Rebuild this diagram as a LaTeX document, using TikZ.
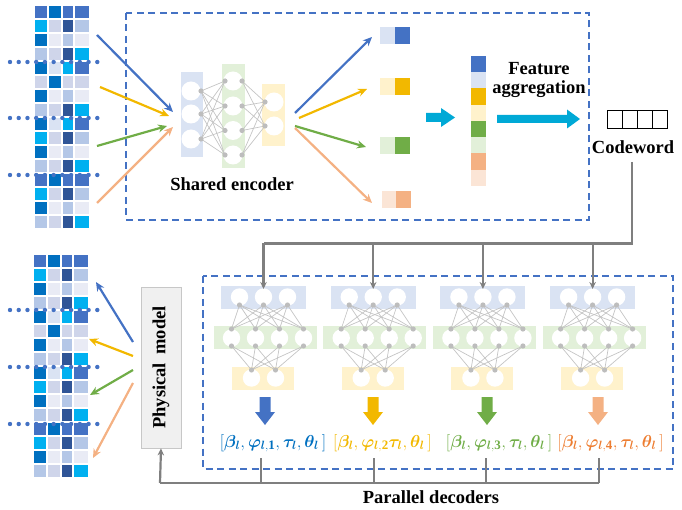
\documentclass[tikz,border=0pt]{standalone}
\usepackage{fontspec}
\setmainfont{Liberation Serif}
\usepackage{amsmath,bm}
\usetikzlibrary{arrows.meta}
\definecolor{cA}{HTML}{4472C4}
\definecolor{cB}{HTML}{0070C0}
\definecolor{cC}{HTML}{00B0F0}
\definecolor{cD}{HTML}{2F5597}
\definecolor{cE}{HTML}{B4C7E7}
\definecolor{cF}{HTML}{CFD5EA}
\definecolor{cG}{HTML}{E9EBF5}
\definecolor{cH}{HTML}{DAE3F3}
\definecolor{lblue}{HTML}{DAE3F3}
\definecolor{lgreen}{HTML}{E2F0D9}
\definecolor{lyellow}{HTML}{FFF2CC}
\definecolor{lorange}{HTML}{FBE5D6}
\definecolor{myellow}{HTML}{F2B800}
\definecolor{mgreen}{HTML}{70AD47}
\definecolor{morange}{HTML}{F4B183}
\definecolor{torange}{HTML}{ED7D31}
\definecolor{mcyan}{HTML}{00A9D6}
\definecolor{edgegray}{HTML}{C4C4C4}
\definecolor{dotgray}{HTML}{BDBDBD}
\definecolor{feedgray}{HTML}{7F7F7F}
\def\matrows{cA/cB/cA/cA, cC/cF/cD/cE, cB/cG/cE/cG, cE/cF/cD/cC,
 cB/cH/cC/cA, cF/cB/cF/cF, cB/cG/cE/cG, cE/cF/cD/cC,
 cB/cH/cC/cA, cC/cF/cD/cE, cB/cG/cE/cG, cE/cF/cD/cC,
 cA/cB/cA/cA, cC/cF/cD/cE, cB/cG/cE/cG, cE/cF/cD/cC}
\tikzset{
  dashbox/.style={draw=cA, line width=1.6pt, dash pattern=on 7pt off 4.5pt},
  dotline/.style={draw=cA, line width=4.4pt, line cap=round, dash pattern=on 0pt off 8.73pt},
  carrow/.style={line width=2.2pt, -{Stealth[length=9pt,width=8pt]}},
  feed/.style={draw=feedgray, line width=2.2pt},
  feedarrow/.style={feed, -{Stealth[length=7pt,width=6.5pt]}},
  nnedge/.style={draw=edgegray, line width=0.7pt},
  ndot/.style={fill=dotgray},
  bold18/.style={font=\fontsize{18.5}{19}\selectfont\bfseries, inner sep=0pt},
  lab/.style={font=\fontsize{18.5}{20}\selectfont, inner sep=0pt, anchor=base},
  pmbox/.style={draw=black!22, fill=black!6, line width=0.8pt, rotate=90, minimum width=161pt, minimum height=40pt, inner sep=0pt, font=\fontsize{18.5}{19}\selectfont\bfseries},
}
\begin{document}
\begin{tikzpicture}[x=1pt,y=-1pt]
\useasboundingbox (0,0) rectangle (682,510);
% ---------- matrices ----------
\foreach \xo/\yo in {35/6, 34/255} {
  \begin{scope}[shift={(\xo,\yo)}]
  \foreach \a/\b/\cc/\d [count=\r from 0] in \matrows {
    \pgfmathsetmacro\yt{14*\r}
    \fill[\a] (0,\yt) rectangle (12,\yt+12);
    \fill[\b] (14,\yt) rectangle (26,\yt+12);
    \fill[\cc] (28,\yt) rectangle (38,\yt+12);
    \fill[\d] (40,\yt) rectangle (54,\yt+12);
  }
  \end{scope}
}
\foreach \y in {62,118,175,310,367,424} \draw[dotline] (10,\y) -- (106,\y);
% ---------- dashed boxes ----------
\draw[dashbox] (126,13) rectangle (589,220);
\draw[dashbox] (203,276) rectangle (673,469);
% ---------- shared encoder ----------
\fill[lblue] (181,72) rectangle (203,157);
\fill[lgreen] (222,64) rectangle (245,168);
\fill[lyellow] (262,84) rectangle (285,146);
\foreach \y in {91,114,139} \fill[white] (191,\y) circle (9.5);
\foreach \y in {81,106,130.5,155} \fill[white] (233,\y) circle (9.5);
\foreach \y in {102,126} \fill[white] (274,\y) circle (9.5);
\foreach \ya in {91,114,139} \foreach \yb in {81,106,130.5,155} \draw[nnedge] (201,\ya) -- (225,\yb);
\foreach \ya in {81,106,130.5,155} \foreach \yb in {102,126} \draw[nnedge] (242,\ya) -- (265,\yb);
\foreach \y in {91,114,139} \fill[ndot] (201,\y) circle (2.6);
\foreach \y in {81,106,130.5,155} {\fill[ndot] (225,\y) circle (2.6); \fill[ndot] (242,\y) circle (2.6);}
\foreach \y in {102,126} \fill[ndot] (265,\y) circle (2.6);
\node[bold18] (enc) at (232,184) {Shared encoder};
% input arrows
\coordinate (ib0) at (97,35);  \coordinate (ib1) at (173,112);
\coordinate (iy0) at (100,87); \coordinate (iy1) at (169,116);
\coordinate (ig0) at (97,146); \coordinate (ig1) at (167,126);
\coordinate (io0) at (97,203); \coordinate (io1) at (173,127);
\draw[carrow, cA] (ib0) -- (ib1);
\draw[carrow, myellow] (iy0) -- (iy1);
\draw[carrow, mgreen] (ig0) -- (ig1);
\draw[carrow, morange] (io0) -- (io1);
% output arrows
\coordinate (ob0) at (295,113); \coordinate (ob1) at (372,37);
\coordinate (oy0) at (299,118); \coordinate (oy1) at (367,89);
\coordinate (og0) at (295,126); \coordinate (og1) at (366,147);
\coordinate (oo0) at (295,128); \coordinate (oo1) at (372,203);
\draw[carrow, cA] (ob0) -- (ob1);
\draw[carrow, myellow] (oy0) -- (oy1);
\draw[carrow, mgreen] (og0) -- (og1);
\draw[carrow, morange] (oo0) -- (oo1);
% feature pairs
\fill[lblue] (380,27) rectangle (395,44);   \fill[cA] (395,27) rectangle (410,44);
\fill[lyellow] (380,78) rectangle (395,95); \fill[myellow] (395,78) rectangle (410,95);
\fill[lgreen] (380,137) rectangle (395,154); \fill[mgreen] (395,137) rectangle (410,154);
\fill[lorange] (382,191) rectangle (396,208); \fill[morange] (396,191) rectangle (411,208);
% cyan block arrow
\fill[mcyan] (426,113) -- (441,113) -- (441,108) -- (455,117.5) -- (441,127) -- (441,122) -- (426,122) -- cycle;
% stacked feature
\foreach \c [count=\i from 0] in {cA,lblue,myellow,lyellow,mgreen,lgreen,morange,lorange}
  \fill[\c] (471,56+16.25*\i) rectangle (486,56+16.25*\i+16.25);
% long cyan arrow
\fill[mcyan] (497,115) -- (567,115) -- (567,109.5) -- (580,119) -- (567,128.5) -- (567,123) -- (497,123) -- cycle;
\node[bold18, align=center] (agg) at (539,80) {Feature\\aggregation};
% codeword
\foreach \i in {0,1,2,3} \draw[black, line width=0.9pt] (607+15*\i,110) rectangle (622+15*\i,128);
\node[bold18] (cw) at (633,147) {Codeword};
\coordinate (cwb) at (632,162);
% ---------- decoders ----------
\coordinate (feedc) at (632,243.5);
\draw[feed] (cwb) -- (feedc) -- (263.5,243.5);
\foreach \cx in {263.5,373.2,482.9,592.6} {
  \begin{scope}[shift={(\cx,0)}]
  \fill[lblue] (-42.5,286) rectangle (42.5,309);
  \fill[lgreen] (-50,326) rectangle (53,349);
  \fill[lyellow] (-31.5,367) rectangle (30.5,390);
  \foreach \x in {-24,0,24} \fill[white] (\x,297) circle (8.7);
  \foreach \x in {-32,-8,16,40} \fill[white] (\x,338) circle (8.7);
  \foreach \x in {-12,12} \fill[white] (\x,378) circle (8.7);
  \foreach \xa in {-24,0,24} \foreach \xb in {-32,-8,16,40} \draw[nnedge] (\xa,305) -- (\xb,329);
  \foreach \xa in {-32,-8,16,40} \foreach \xb in {-12,12} \draw[nnedge] (\xa,346) -- (\xb,370);
  \foreach \x in {-24,0,24} \fill[ndot] (\x,305) circle (2.6);
  \foreach \x in {-32,-8,16,40} {\fill[ndot] (\x,329) circle (2.6); \fill[ndot] (\x,346) circle (2.6);}
  \foreach \x in {-12,12} \fill[ndot] (\x,370) circle (2.6);
  \draw[feedarrow] (0,243.5) -- (0,289);
  \end{scope}
}
% colored block arrows
\foreach \x/\c in {265/cA, 373/myellow, 487/mgreen, 598/morange}
  \fill[\c] (\x-5.5,397) -- (\x+5.5,397) -- (\x+5.5,412) -- (\x+10,412) -- (\x,425) -- (\x-10,412) -- (\x-5.5,412) -- cycle;
% labels
\node[lab, cB] (L1) at (273,447) {$[\bm{\beta}_{\bm{l}},\bm{\varphi}_{\bm{l},\mathbf{1}},\bm{\tau}_{\bm{l}},\bm{\theta}_{\bm{l}}\,]$};
\node[lab, myellow] (L2) at (382.5,447) {$[\bm{\beta}_{\bm{l}},\bm{\varphi}_{\bm{l},\mathbf{2}}\bm{\tau}_{\bm{l}},\bm{\theta}_{\bm{l}}\,]$};
\node[lab, mgreen] (L3) at (499,447) {$[\bm{\beta}_{\bm{l}},\bm{\varphi}_{\bm{l},\mathbf{3}},\bm{\tau}_{\bm{l}},\bm{\theta}_{\bm{l}}\,]$};
\node[lab, torange] (L4) at (610.5,447) {$[\bm{\beta}_{\bm{l}},\bm{\varphi}_{\bm{l},\mathbf{4}},\bm{\tau}_{\bm{l}},\bm{\theta}_{\bm{l}}\,]$};
% physical model
\node[pmbox] (pm) at (161,367.5) {Physical\hspace{0.45em}model};
% bottom gray collector
\foreach \x in {261,374,486,599} \draw[feed] (\x,458) -- (\x,483);
\coordinate (colr) at (599,483);
\coordinate (coll) at (160,483);
\draw[feed] (colr) -- (coll);
\draw[feedarrow] (coll) -- (pm.west);
\node[bold18] (pd) at (431,497) {Parallel decoders};
% physical model output arrows
\coordinate (pb0) at (133,342); \coordinate (pb1) at (96,282);
\coordinate (py0) at (133,356); \coordinate (py1) at (89,339);
\coordinate (pg0) at (133,370); \coordinate (pg1) at (90,395);
\coordinate (po0) at (133,383); \coordinate (po1) at (93,458);
\draw[carrow, cA] (pb0) -- (pb1);
\draw[carrow, myellow] (py0) -- (py1);
\draw[carrow, mgreen] (pg0) -- (pg1);
\draw[carrow, morange] (po0) -- (po1);
\end{tikzpicture}
\end{document}
